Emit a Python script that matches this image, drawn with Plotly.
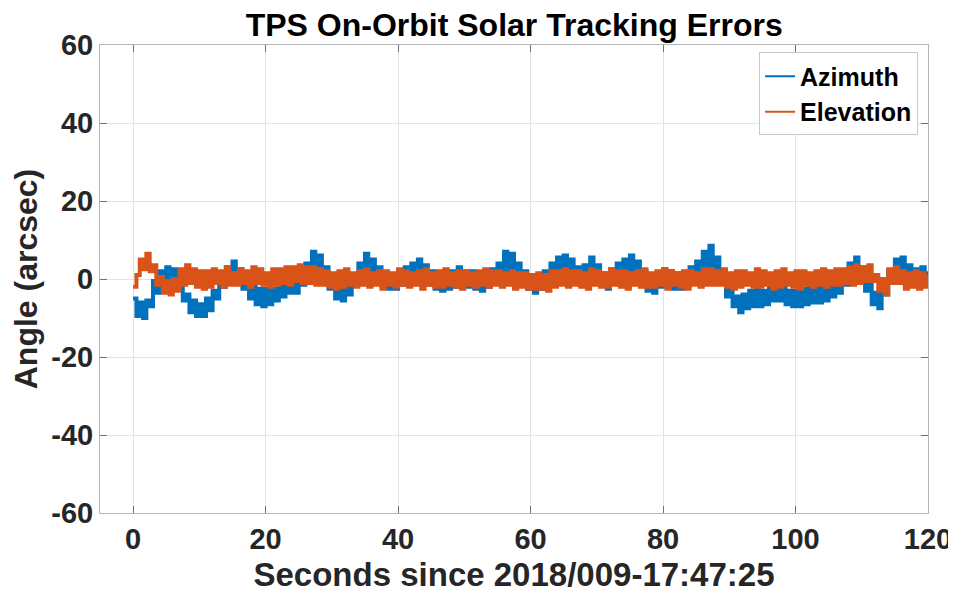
''' TPS on-orbit solar tracking errors chart '''

## Imports
import plotly.graph_objects as go

# Sample clock (seconds)
t_start = 0
t_step = 0.5

# Azimuth error (arcsec), one value every 0.5 s
azimuth = [
    -5.0, -9.5, -6.0, -10.0, -5.5, -7.0, -0.5, -3.5, 2.0, -2.0,
    3.0, -1.0, 2.5, -2.5, -0.5, -5.5, -4.0, -8.5, -5.5, -9.5,
    -6.5, -9.5, -5.0, -8.0, -3.0, -5.0, 1.0, -2.0, 3.0, 0.0,
    4.5, -0.5, 2.5, -2.5, 0.0, -5.0, -2.0, -6.5, -2.5, -7.0,
    -2.5, -6.5, -2.5, -5.5, -1.0, -4.5, 0.0, -3.5, 0.5, -3.5,
    1.0, -1.5, 4.0, 1.0, 7.0, 2.0, 6.0, 0.5, 3.0, -2.5,
    0.0, -5.0, -1.5, -5.5, -0.5, -4.0, 1.0, -1.5, 4.0, 1.0,
    6.5, 1.5, 5.0, 0.0, 3.0, -2.0, 1.5, -2.5, 1.0, -2.5,
    2.0, -1.5, 3.0, -0.5, 4.0, -0.5, 5.0, -0.5, 3.5, -1.5,
    2.0, -2.5, 1.5, -3.0, 1.5, -2.5, 2.0, -2.0, 3.0, -2.0,
    2.0, -2.0, 2.0, -2.5, 1.5, -3.0, 2.0, -2.0, 2.5, -1.0,
    4.0, 1.5, 7.0, 2.0, 6.5, 1.0, 4.0, -1.0, 2.0, -2.5,
    1.0, -3.5, 1.0, -2.5, 2.0, -1.0, 4.0, 0.5, 5.5, 1.0,
    6.0, 1.0, 5.0, 0.0, 3.0, -1.0, 3.5, 0.5, 5.5, 0.0,
    3.5, -1.5, 1.5, -2.5, 2.5, -1.0, 4.0, 0.5, 5.0, 1.0,
    6.0, 1.0, 4.5, -1.0, 2.0, -3.0, 0.5, -3.5, 1.0, -2.0,
    2.5, -2.0, 2.0, -2.5, 1.5, -2.5, 1.5, -2.0, 3.0, 0.0,
    4.5, 1.5, 7.0, 3.0, 8.5, 2.5, 5.5, -1.0, 1.0, -4.5,
    -2.0, -7.0, -4.5, -8.5, -4.0, -7.5, -3.0, -7.0, -2.5, -7.0,
    -3.0, -6.5, -2.0, -5.5, -1.0, -5.5, -2.0, -6.5, -3.0, -7.0,
    -3.0, -7.0, -2.5, -6.5, -2.0, -6.0, -2.0, -6.0, -1.5, -5.5,
    -1.0, -4.5, 0.0, -3.5, 1.5, -1.5, 4.0, 1.0, 5.5, 0.0,
    3.0, -3.0, -1.0, -6.5, -3.5, -7.5, -2.0, -4.0, 2.0, -0.5,
    5.0, 1.0, 5.5, 0.5, 3.5, -1.0, 2.5, -1.5, 3.0, -1.5,
    2.0,
]

# Elevation error (arcsec), one value every 0.5 s
elevation = [
    -2.0, 1.0, 5.0, 2.5, 6.5, 2.0, 3.5, -1.5, 0.5, -3.5,
    -0.5, -4.0, 0.0, -3.0, 2.5, -1.5, 3.5, -1.0, 2.5, -2.0,
    2.0, -2.5, 2.0, -2.0,
    2.5, -1.0, 2.0, -2.0, 3.0, -1.5, 1.5, -1.5, 2.5, -1.0,
    2.0, -2.0, 3.0, -1.0, 2.5, -1.5, 1.5, -2.0, 2.5, -1.5,
    2.5, -1.0, 3.0, -1.5, 3.0, -0.5, 3.5, -1.0, 3.0, -1.0,
    3.0, -1.5, 2.5, -1.5, 2.0, -2.0, 1.5, -2.5, 2.0, -2.0,
    2.5, -1.5, 1.5, -2.0, 2.0, -1.5, 2.5, -2.0, 1.5, -1.5,
    2.0, -2.5, 2.0, -1.5, 1.5, -2.0, 2.5, -1.5, 2.0, -2.0,
    1.5, -1.5, 2.0, -2.5, 2.5, -1.5, 1.5, -2.0, 2.0, -2.0,
    2.5, -1.5, 1.5, -2.0, 2.0, -2.5, 2.0, -1.5, 1.5, -2.0,
    2.0, -1.5, 2.5, -2.0, 2.0, -1.5, 2.0, -2.0, 1.5, -1.5,
    2.0, -2.5, 1.5, -2.0, 1.5, -2.5, 1.0, -2.5, 1.5, -2.5,
    1.0, -3.0, 2.0, -2.0, 2.0, -1.5, 2.5, -2.0, 2.0, -1.5,
    2.0, -2.0, 1.5, -2.5, 2.5, -1.5, 2.0, -2.0, 1.5, -2.0,
    2.5, -1.5, 2.0, -2.0, 2.0, -2.5, 1.5, -1.5, 2.0, -2.0,
    2.5, -2.0, 1.5, -2.0, 2.0, -1.5, 2.5, -2.5, 2.0, -1.5,
    1.5, -2.0, 2.0, -2.5, 2.0, -1.5, 1.5, -2.0, 2.5, -1.5,
    2.5, -1.5, 2.0, -1.5, 2.5, -2.0, 1.5, -2.5, 2.0, -2.0,
    2.0, -1.5, 1.5, -2.0, 2.5, -2.0, 2.0, -1.5, 1.5, -2.5,
    2.0, -2.0, 2.5, -1.5, 1.5, -2.0, 2.0, -2.5, 2.0, -1.5,
    1.5, -2.0, 2.0, -1.5, 2.5, -2.0, 2.0, -1.5, 2.5, -1.5,
    2.5, -1.0, 3.0, -1.5, 3.5, -1.0, 3.0, -0.5, 3.5, -0.5,
    1.0, -3.0, 0.0, -4.0, 2.5, -1.0, 3.0, -1.0, 2.0, -2.5,
    1.5, -2.0, 2.0, -2.5, 1.5, -2.0, 1.0,
]

x_ticks = [0, 20, 40, 60, 80, 100, 120]
y_ticks = [-60, -40, -20, 0, 20, 40, 60]
y_tick_labels = ["-60", "-40", "-20", "0", "20", "40", "60"]

FONT = "Liberation Sans, Arial, sans-serif"
TEXT = "#262626"
BLUE = "#0072BD"
ORANGE = "#D95319"

fig = go.Figure()

# Noisy traces: stepped and thick so the jitter reads as a solid band
fig.add_trace(go.Scatter(
    y=azimuth, x0=t_start, dx=t_step,
    mode="lines",
    line=dict(color=BLUE, width=4, shape="hv", simplify=False),
    showlegend=False
))
fig.add_trace(go.Scatter(
    y=elevation, x0=t_start, dx=t_step,
    mode="lines",
    line=dict(color=ORANGE, width=4, shape="hv", simplify=False),
    showlegend=False
))

# Legend entries with thin sample lines
fig.add_trace(go.Scatter(x=[None], y=[None], mode="lines",
                         line=dict(color=BLUE, width=2), name="<b>Azimuth</b>"))
fig.add_trace(go.Scatter(x=[None], y=[None], mode="lines",
                         line=dict(color=ORANGE, width=2), name="<b>Elevation</b>"))

axis_style = dict(
    showgrid=True,
    gridcolor="#e3e3e3",
    gridwidth=1,
    zeroline=False,
    showline=True,
    linecolor="#b5b5b5",
    linewidth=1,
    mirror="ticks",
    ticks="inside",
    ticklen=7,
    tickcolor="#707070",
    automargin=False,
    tickfont=dict(family=FONT, size=29, color=TEXT, weight="bold"),
)

# Page body adds an 8px offset, so the figure is made smaller to fit
fig.update_layout(
    width=948,
    height=585,
    margin=dict(l=92, r=28, t=37, b=80),
    paper_bgcolor="white",
    plot_bgcolor="white",
    font=dict(family=FONT, color=TEXT),
    title=dict(
        text="<b>TPS On-Orbit Solar Tracking Errors</b>",
        x=0.534, xanchor="center",
        y=0.972, yanchor="middle",
        font=dict(family=FONT, size=32, color="black"),
    ),
    xaxis=dict(
        axis_style,
        range=[-5, 120],
        tickvals=x_ticks,
        title=dict(text="<b>Seconds since 2018/009-17:47:25</b>",
                   font=dict(family=FONT, size=33, color=TEXT), standoff=14),
    ),
    yaxis=dict(
        axis_style,
        range=[-60, 60],
        tickvals=y_ticks,
        ticktext=y_tick_labels,
        title=dict(text="<b>Angle (arcsec)</b>",
                   font=dict(family=FONT, size=32, color=TEXT), standoff=6),
    ),
    legend=dict(
        x=0.988, xanchor="right",
        y=0.984, yanchor="top",
        bgcolor="white",
        bordercolor="#c8c8c8",
        borderwidth=1,
        font=dict(family=FONT, size=25, color="black"),
        tracegroupgap=0,
        itemwidth=30,
    ),
    showlegend=True,
)

fig.write_html("out.html")
